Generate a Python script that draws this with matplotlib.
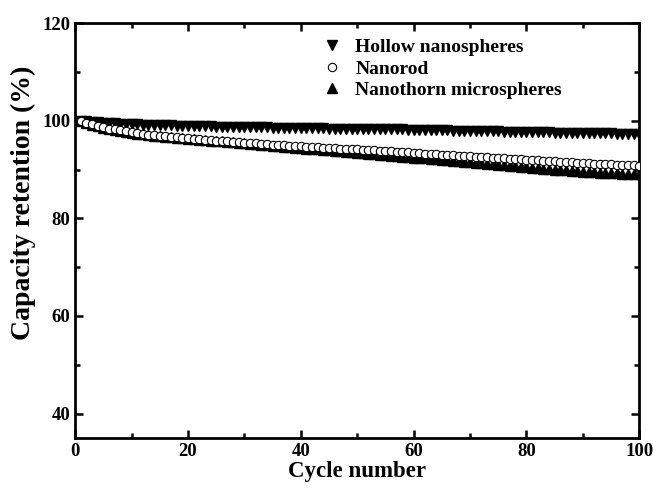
import matplotlib
matplotlib.use("Agg")
import matplotlib.pyplot as plt
import numpy as np

cycles = list(range(1, 101))

hollow = [100.0, 99.9, 99.8, 99.7, 99.6, 99.5, 99.5, 99.4, 99.4, 99.3,
          99.3, 99.2, 99.2, 99.2, 99.1, 99.1, 99.1, 99.0, 99.0, 99.0,
          98.9, 98.9, 98.9, 98.9, 98.8, 98.8, 98.8, 98.8, 98.8, 98.7,
          98.7, 98.7, 98.7, 98.7, 98.6, 98.6, 98.6, 98.6, 98.6, 98.5,
          98.5, 98.5, 98.5, 98.5, 98.4, 98.4, 98.4, 98.4, 98.4, 98.3,
          98.3, 98.3, 98.3, 98.3, 98.2, 98.2, 98.2, 98.2, 98.1, 98.1,
          98.1, 98.1, 98.0, 98.0, 98.0, 98.0, 97.9, 97.9, 97.9, 97.9,
          97.8, 97.8, 97.8, 97.8, 97.8, 97.7, 97.7, 97.7, 97.7, 97.6,
          97.6, 97.6, 97.6, 97.6, 97.5, 97.5, 97.5, 97.5, 97.5, 97.4,
          97.4, 97.4, 97.4, 97.4, 97.4, 97.3, 97.3, 97.3, 97.3, 97.3]

nanorod = [100.0, 99.6, 99.3, 99.0, 98.7, 98.4, 98.2, 98.0, 97.8, 97.6,
           97.4, 97.3, 97.1, 97.0, 96.9, 96.8, 96.7, 96.6, 96.5, 96.4,
           96.3, 96.2, 96.1, 96.0, 95.9, 95.9, 95.8, 95.7, 95.6, 95.5,
           95.5, 95.4, 95.3, 95.2, 95.1, 95.1, 95.0, 94.9, 94.8, 94.8,
           94.7, 94.6, 94.6, 94.5, 94.4, 94.4, 94.3, 94.2, 94.2, 94.1,
           94.0, 94.0, 93.9, 93.8, 93.8, 93.7, 93.6, 93.6, 93.5, 93.4,
           93.3, 93.2, 93.2, 93.1, 93.0, 92.9, 92.9, 92.8, 92.7, 92.7,
           92.6, 92.5, 92.5, 92.4, 92.3, 92.3, 92.2, 92.1, 92.1, 92.0,
           91.9, 91.9, 91.8, 91.7, 91.7, 91.6, 91.5, 91.5, 91.4, 91.4,
           91.3, 91.2, 91.2, 91.1, 91.1, 91.0, 91.0, 90.9, 90.9, 90.8]

nanothorn = [100.0, 99.6, 99.2, 98.9, 98.6, 98.3, 98.1, 97.9, 97.7, 97.5,
             97.3, 97.2, 97.0, 96.9, 96.8, 96.7, 96.6, 96.5, 96.4, 96.3,
             96.2, 96.1, 96.0, 95.9, 95.8, 95.8, 95.7, 95.6, 95.5, 95.4,
             95.3, 95.2, 95.1, 95.0, 94.9, 94.8, 94.7, 94.6, 94.5, 94.4,
             94.3, 94.2, 94.1, 94.0, 93.9, 93.8, 93.7, 93.6, 93.5, 93.4,
             93.3, 93.2, 93.1, 93.0, 92.9, 92.8, 92.7, 92.6, 92.5, 92.4,
             92.4, 92.3, 92.2, 92.1, 92.0, 91.9, 91.8, 91.7, 91.6, 91.5,
             91.4, 91.3, 91.2, 91.1, 91.0, 90.9, 90.8, 90.7, 90.6, 90.5,
             90.4, 90.3, 90.2, 90.1, 90.0, 89.9, 89.8, 89.7, 89.6, 89.5,
             89.5, 89.4, 89.3, 89.3, 89.2, 89.2, 89.1, 89.1, 89.1, 89.1]

labels = ["Hollow nanospheres", "Nanorod", "Nanothorn microspheres"]
xticks = [0, 20, 40, 60, 80, 100]
yticks = [40, 60, 80, 100, 120]

plt.rcParams['font.family'] = ['Liberation Serif', 'DejaVu Serif']
plt.rcParams['font.weight'] = 'bold'

fig = plt.figure(figsize=(6.53, 4.91), dpi=100)
ax = fig.add_axes([0.115, 0.108, 0.864, 0.845])

ax.plot(cycles, nanothorn, linestyle='none', marker='^', color='black',
        markersize=6.5, label=labels[2], zorder=2)
ax.plot(cycles, hollow, linestyle='none', marker='v', color='black',
        markersize=6.5, label=labels[0], zorder=2)
ax.plot(cycles, nanorod, linestyle='none', marker='o', markerfacecolor='white',
        markeredgecolor='black', markeredgewidth=0.8, markersize=6,
        label=labels[1], zorder=3)

ax.set_xlim(0, 100)
ax.set_ylim(35, 120)
ax.set_xticks(xticks)
ax.set_yticks(yticks)
ax.set_xticks([10, 30, 50, 70, 90], minor=True)
ax.set_yticks([50, 70, 90, 110], minor=True)
ax.tick_params(which='both', direction='in', top=True, right=True, width=1.8,
               labelsize=13.5)
ax.tick_params(which='major', length=6)
ax.tick_params(which='minor', length=3.5)
for s in ax.spines.values():
    s.set_linewidth(2)

ax.set_xlabel("Cycle number", fontsize=16.5, fontweight='bold', labelpad=1)
ax.set_ylabel("Capacity retention (%)", fontsize=20, fontweight='bold')
ax.yaxis.set_label_coords(-0.069, 0.566)

handles, labs = ax.get_legend_handles_labels()
order = [labs.index(l) for l in labels]
leg = ax.legend([handles[i] for i in order], [labs[i] for i in order],
                loc='upper left', bbox_to_anchor=(0.39, 1.005), frameon=False,
                handletextpad=0.2, labelspacing=0.2, handlelength=2.0,
                prop={'weight': 'bold', 'size': 14})

fig.savefig("out.png", dpi=100)
